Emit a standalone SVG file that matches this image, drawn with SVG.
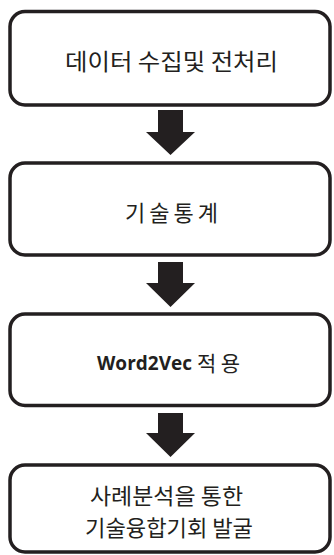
<svg xmlns="http://www.w3.org/2000/svg" width="334" height="555" viewBox="0 0 334 555">
<style>
.box{fill:#fff;stroke:#231f20;stroke-width:3.5}
.arr{fill:#231f20}
.kt{font-family:"Noto Sans CJK KR","Noto Sans",sans-serif;fill:#231f20;text-anchor:middle;dominant-baseline:central}
.en{font-family:"Open Sans","Liberation Sans",sans-serif;font-weight:bold;fill:#231f20;dominant-baseline:central}
</style>
<rect width="334" height="555" fill="#fff"/>
<g id="connectors">
<polygon class="arr" points="158,110 183,110 183,132 195,132 170.5,155 146,132 158,132"/>
<polygon class="arr" points="158,262 183,262 183,283 195,283 170.5,307 146,283 158,283"/>
<polygon class="arr" points="158,413 183,413 183,433 195,433 170.5,457 146,433 158,433"/>
</g>
<g id="node1">
<rect class="box" x="10" y="11.5" width="320" height="93.5" rx="15"/>
<text class="kt" x="171.5" y="60" font-size="23" textLength="213" lengthAdjust="spacingAndGlyphs">데이터 수집및 전처리</text>
</g>
<g id="node2">
<rect class="box" x="10" y="163" width="320" height="92" rx="15"/>
<text class="kt" x="171.5" y="211" font-size="22" textLength="93" lengthAdjust="spacing">기술통계</text>
</g>
<g id="node3">
<rect class="box" x="10" y="314" width="320" height="91.5" rx="15"/>
<text y="362"><tspan class="en" x="97" font-size="20" textLength="95" lengthAdjust="spacingAndGlyphs">Word2Vec</tspan></text>
<text class="kt" x="218.5" y="362" font-size="21" textLength="43" lengthAdjust="spacing">적용</text>
</g>
<g id="node4">
<rect class="box" x="10" y="465" width="320" height="87" rx="15"/>
<text class="kt" x="166.5" y="494" font-size="22" textLength="153" lengthAdjust="spacingAndGlyphs">사례분석을 통한</text>
<text class="kt" x="169" y="526" font-size="22" textLength="168" lengthAdjust="spacingAndGlyphs">기술융합기회 발굴</text>
</g>
</svg>
